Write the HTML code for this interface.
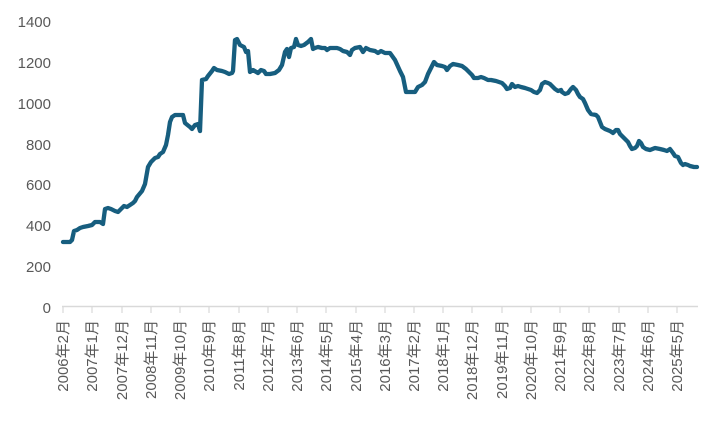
<!DOCTYPE html>
<html><head><meta charset="utf-8"><style>
html,body{margin:0;padding:0;background:#fff;}
svg{display:block;}
text{font-family:"Liberation Sans","Noto Sans CJK SC",sans-serif;fill:#595959;}
</style></head><body>
<svg width="720" height="432" viewBox="0 0 720 432" xmlns="http://www.w3.org/2000/svg">
<g font-size="15" text-anchor="end">
<text x="51" y="27">1400</text>
<text x="51" y="68">1200</text>
<text x="51" y="109">1000</text>
<text x="51" y="150">800</text>
<text x="51" y="190">600</text>
<text x="51" y="231">400</text>
<text x="51" y="272">200</text>
<text x="51" y="313">0</text>
</g>
<line x1="62" y1="306.5" x2="698" y2="306.5" stroke="#d9d9d9" stroke-width="1.5"/>
<g stroke="#d9d9d9" stroke-width="1.2">
<line x1="63" y1="306" x2="63" y2="313"/><line x1="92" y1="306" x2="92" y2="313"/><line x1="122" y1="306" x2="122" y2="313"/><line x1="151" y1="306" x2="151" y2="313"/><line x1="180" y1="306" x2="180" y2="313"/><line x1="209" y1="306" x2="209" y2="313"/><line x1="239" y1="306" x2="239" y2="313"/><line x1="268" y1="306" x2="268" y2="313"/><line x1="297" y1="306" x2="297" y2="313"/><line x1="326" y1="306" x2="326" y2="313"/><line x1="356" y1="306" x2="356" y2="313"/><line x1="385" y1="306" x2="385" y2="313"/><line x1="414" y1="306" x2="414" y2="313"/><line x1="443" y1="306" x2="443" y2="313"/><line x1="472" y1="306" x2="472" y2="313"/><line x1="502" y1="306" x2="502" y2="313"/><line x1="531" y1="306" x2="531" y2="313"/><line x1="560" y1="306" x2="560" y2="313"/><line x1="589" y1="306" x2="589" y2="313"/><line x1="619" y1="306" x2="619" y2="313"/><line x1="648" y1="306" x2="648" y2="313"/><line x1="677" y1="306" x2="677" y2="313"/>
</g>
<g font-size="15" text-anchor="end" style="fill:#666">
<text transform="translate(68,320) rotate(-90)">2006年2月</text>
<text transform="translate(97,320) rotate(-90)">2007年1月</text>
<text transform="translate(127,320) rotate(-90)">2007年12月</text>
<text transform="translate(156,320) rotate(-90)">2008年11月</text>
<text transform="translate(185,320) rotate(-90)">2009年10月</text>
<text transform="translate(214,320) rotate(-90)">2010年9月</text>
<text transform="translate(244,320) rotate(-90)">2011年8月</text>
<text transform="translate(273,320) rotate(-90)">2012年7月</text>
<text transform="translate(302,320) rotate(-90)">2013年6月</text>
<text transform="translate(331,320) rotate(-90)">2014年5月</text>
<text transform="translate(361,320) rotate(-90)">2015年4月</text>
<text transform="translate(390,320) rotate(-90)">2016年3月</text>
<text transform="translate(419,320) rotate(-90)">2017年2月</text>
<text transform="translate(448,320) rotate(-90)">2018年1月</text>
<text transform="translate(477,320) rotate(-90)">2018年12月</text>
<text transform="translate(507,320) rotate(-90)">2019年11月</text>
<text transform="translate(536,320) rotate(-90)">2020年10月</text>
<text transform="translate(565,320) rotate(-90)">2021年9月</text>
<text transform="translate(594,320) rotate(-90)">2022年8月</text>
<text transform="translate(624,320) rotate(-90)">2023年7月</text>
<text transform="translate(653,320) rotate(-90)">2024年6月</text>
<text transform="translate(682,320) rotate(-90)">2025年5月</text>
</g>
<polyline fill="none" stroke="#175e7f" stroke-width="4.3" stroke-linejoin="round" stroke-linecap="round" points="63,242 70,242 72,240 74,231 77,230 80,228 83,227 88,226 92,225 95,222 98,222 100,222 103,224 105,209 108,208 111,209 115,211 118,212 120,210 124,206 127,207 130,205 133,203 135,201 137,197 142,191 145,184 148,167 151,162 155,158 158,157 160,154 163,152 166,145 168,135 170,122 172,117 175,115 180,115 183,115 185,123 190,127 192,129 195,125 198,124 200,131 202,80 206,79 208,76 212,71 214,68 217,70 222,71 225,72 229,74 232,73 233,71 235,40 237,39 240,45 244,47 246,52 248,51 250,72 253,70 258,73 261,70 264,71 266,74 270,74 275,73 279,70 282,65 285,52 287,49 289,57 291,48 294,47 296,39 298,45 301,46 304,45 308,42 311,39 313,49 315,48 318,47 322,48 325,48 327,50 330,48 334,48 337,48 340,49 343,51 347,52 350,55 352,50 355,48 360,47 363,52 366,48 370,50 375,51 378,53 381,51 385,53 390,53 395,60 400,71 403,77 406,92 410,92 415,92 418,87 422,85 425,82 428,74 431,68 434,62 437,65 442,66 445,67 447,70 450,66 453,64 458,65 462,66 466,69 469,72 472,75 474,78 478,78 481,77 484,78 486,79 488,80 491,80 496,81 499,82 502,83 505,86 507,89 510,88 512,84 515,87 518,86 521,87 525,88 528,89 531,90 534,92 537,93 540,90 542,84 545,82 548,83 550,84 553,87 555,89 558,91 561,90 562,92 565,94 568,93 571,89 573,87 576,90 578,94 580,97 583,99 585,103 588,110 591,114 596,115 598,117 600,122 602,127 605,129 610,131 613,133 616,130 618,130 620,134 623,137 626,140 628,142 630,146 632,149 635,148 637,146 639,141 641,143 643,147 646,149 650,150 655,148 660,149 664,150 667,151 670,149 673,153 675,156 678,157 681,163 683,165 685,164 688,165 690,166 694,167 697,167"/>
</svg>
</body></html>
